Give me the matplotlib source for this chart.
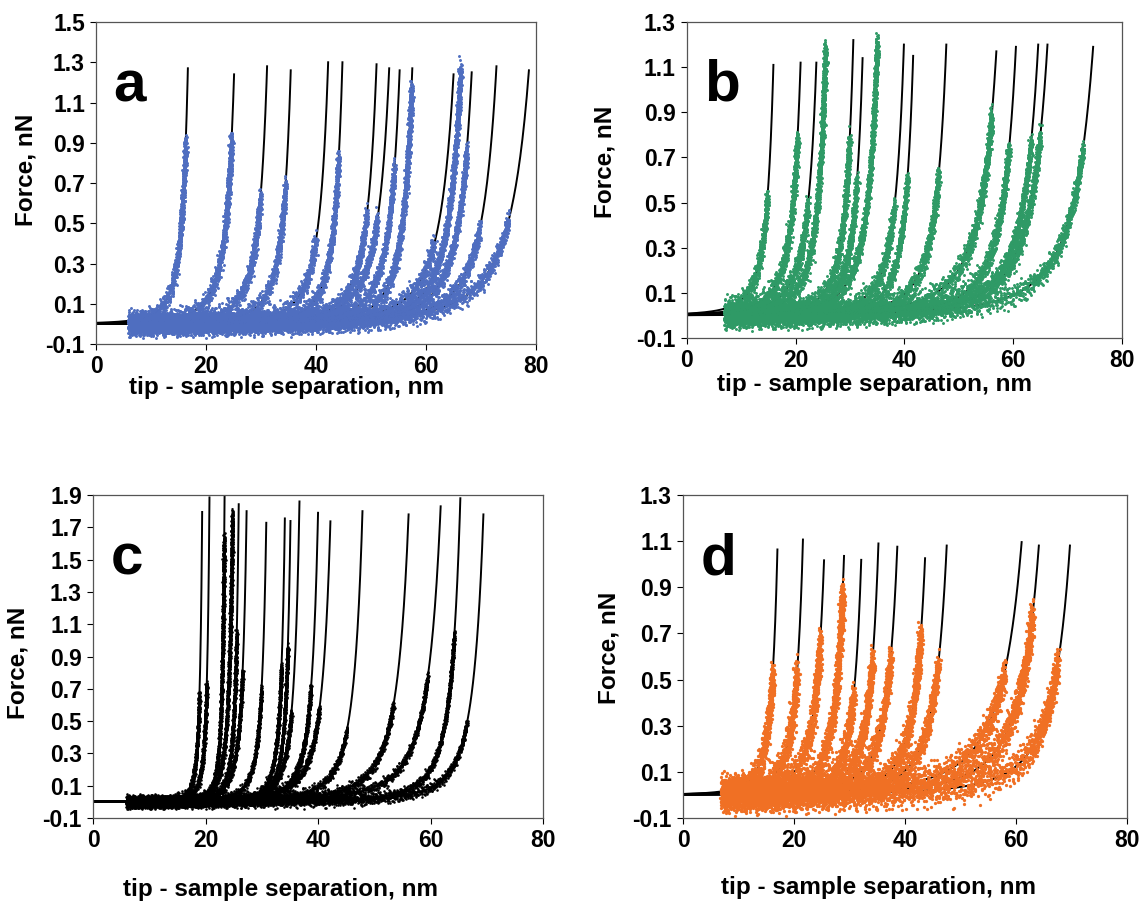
import numpy as np
import matplotlib
matplotlib.use("Agg")
import matplotlib.pyplot as plt

plt.rcParams['font.family'] = ['Liberation Sans', 'DejaVu Sans']
plt.rcParams['font.weight'] = 'bold'

# --- fit curves ---
# x_end: separation where the fit line ends (top), f_end: force there,
# x_03: separation where the fit crosses 0.3 nN, f_data: highest measured force
a_x_end = [16.7, 25.1, 31.1, 35.4, 42.2, 44.8, 51.0, 53.3, 55.2, 57.5, 65.0, 66.3, 68.3, 72.8, 78.7]
a_f_end = [1.27, 1.24, 1.28, 1.26, 1.30, 1.30, 1.29, 1.27, 1.26, 1.27, 1.24, 1.27, 1.25, 1.28, 1.26]
a_x_03 = [14.7, 22.5, 28.3, 32.8, 39.2, 42.2, 47.7, 49.5, 51.9, 54.4, 60.4, 62.2, 64.1, 68.0, 72.2]
a_f_data = [0.90, 0.92, 0.63, 0.69, 0.42, 0.83, 0.55, 0.52, 0.78, 1.18, 0.40, 1.27, 0.87, 0.48, 0.52]

b_x_end = [15.9, 20.9, 23.8, 25.5, 30.6, 32.3, 35.0, 39.9, 41.6, 47.7, 56.9, 60.5, 64.6, 66.3, 74.7]
b_f_end = [1.11, 1.12, 1.12, 1.195, 1.22, 1.14, 1.21, 1.20, 1.15, 1.20, 1.17, 1.19, 1.20, 1.20, 1.19]
b_x_03 = [13.8, 18.4, 21.1, 22.9, 28.1, 29.9, 31.8, 37.0, 39.1, 44.3, 51.9, 56.2, 59.8, 61.0, 68.4]
b_f_data = [0.52, 0.79, 0.50, 1.19, 0.78, 0.60, 1.21, 0.49, 0.60, 0.63, 0.89, 0.74, 0.77, 0.80, 0.74]

c_x_end = [19.4, 20.7, 23.4, 24.8, 25.9, 27.3, 30.8, 34.1, 35.1, 36.7, 40.0, 42.2, 47.9, 56.1, 61.8, 65.3, 69.4]
c_f_end = [1.795, 1.885, 1.95, 1.813, 1.843, 1.80, 1.728, 1.755, 1.739, 1.86, 1.79, 1.737, 1.80, 1.78, 1.83, 1.88, 1.78]
c_x_03 = [18.4, 19.6, 22.3, 23.2, 24.5, 25.4, 28.9, 32.4, 33.4, 34.3, 37.2, 38.7, 44.1, 51.1, 56.1, 61.2, 65.0]
c_f_data = [0.66, 0.73, 1.64, 1.78, 1.05, 0.80, 0.70, 0.84, 0.95, 0.55, 0.71, 0.58, 0.45, 0.60, 0.78, 1.04, 0.49]

d_x_end = [17.0, 21.6, 25.4, 29.0, 32.1, 35.2, 38.6, 43.6, 47.5, 61.0, 64.1, 69.7]
d_f_end = [1.064, 1.107, 1.017, 1.036, 1.019, 1.09, 1.076, 1.026, 1.081, 1.096, 1.081, 1.081]
d_x_03 = [15.3, 19.5, 23.1, 26.7, 30.0, 32.7, 35.7, 40.8, 44.1, 54.9, 58.8, 64.8]
d_f_data = [0.53, 0.54, 0.67, 0.89, 0.44, 0.59, 0.60, 0.70, 0.56, 0.54, 0.79, 0.58]

# scatter offsets (in units of the noise level), reused along each curve
NOISE_A = [0.3, -1.2, 0.8, -0.1, 1.6, -0.7, 0.2, -1.9, 1.1, -0.4, 0.6, -1.0, 2.1, -0.2, 0.0,
           -1.4, 0.9, 0.4, -0.6, 1.3, -2.2, 0.1, 0.7, -0.9, 1.8, -0.3, -1.6, 0.5, 1.0]
NOISE_B = [-0.5, 1.1, 0.2, -1.7, 0.6, -0.2, 1.9, -0.9, 0.0, 0.8, -1.3, 0.4, -0.6, 1.5, -2.0,
           0.3, 1.2, -0.1, -1.1, 0.7, 2.3, -0.8, 0.1, -0.4, 1.0, -1.5, 0.5, -0.3, 1.4, -2.4, 0.9]

N_EXP = 3


def gap(x_end, f_end, x_03):
    r = (0.3 / f_end) ** (1.0 / N_EXP)
    return r * (x_end - x_03) / (1 - r)


def fit_force(x, x_end, f_end, x_03):
    g = gap(x_end, f_end, x_03)
    return f_end * (g / (x_end + g - x)) ** N_EXP


def draw_panel(ax, x_end, f_end, x_03, f_data, color, letter, ylim, yticks,
               x_start, sy, sx, msize, xlab_pos, ylab_pos):
    nA = np.array(NOISE_A)
    nB = np.array(NOISE_B)
    yr = ylim[1] - ylim[0]
    for k in range(len(x_end)):
        xs = np.linspace(0, x_end[k], 600)
        ax.plot(xs, fit_force(xs, x_end[k], f_end[k], x_03[k]), color='black', lw=1.4, zorder=2)

        # measured points along the fit
        g = gap(x_end[k], f_end[k], x_03[k])
        x_top = x_end[k] + g - g * (f_end[k] / f_data[k]) ** (1.0 / N_EXP)
        xd = np.linspace(x_start, x_top, 4000)
        fd = fit_force(xd, x_end[k], f_end[k], x_03[k])
        s = np.concatenate([[0], np.cumsum(np.hypot(np.diff(xd) / 80, np.diff(fd) / yr))])
        npts = int(s[-1] / 0.0007)
        idx = np.arange(npts)
        ss = np.linspace(0, s[-1], npts)
        px = np.interp(ss, s, xd)
        pf = np.interp(ss, s, fd)
        ny = 0.7 * (nA[(idx * 7 + k * 3) % 29] + nB[(idx * 13 + k * 5) % 31])
        nx = 0.7 * (nA[(idx * 11 + k) % 29] - nB[(idx * 3 + k * 7) % 31])
        ax.scatter(px + sx * nx, pf + sy * ny, s=msize, color=color, marker='o',
                   linewidths=0, zorder=3)

    ax.set_xlim(0, 80)
    ax.set_ylim(*ylim)
    ax.set_xticks([0, 20, 40, 60, 80])
    ax.set_yticks(yticks)
    ax.set_yticklabels([f'{v:.1f}' for v in yticks])
    ax.tick_params(direction='out', length=4, width=0.8, labelsize=16.5, pad=4, colors='black')
    for sp in ax.spines.values():
        sp.set_color('#555555')
        sp.set_linewidth(0.9)
    ax.set_xlabel('tip - sample separation, nm', fontsize=17.5, fontweight='bold')
    ax.set_ylabel('Force, nN', fontsize=17.5, fontweight='bold')
    ax.xaxis.set_label_coords(*xlab_pos)
    ax.yaxis.set_label_coords(*ylab_pos)
    ax.text(0.04, 0.80, letter, transform=ax.transAxes, fontsize=42, fontweight='bold',
            ha='left', va='center')


fig = plt.figure(figsize=(11.43, 9.02), dpi=100)

ax_a = fig.add_axes([0.0840, 0.6186, 0.3850, 0.3570])
draw_panel(ax_a, a_x_end, a_f_end, a_x_03, a_f_data, '#4F6EC0', 'a', (-0.1, 1.5),
           np.arange(-0.1, 1.51, 0.2), 6.0, 0.022, 0.16, 4.5,
           (0.434, -0.10), (-0.134, 0.54))

ax_b = fig.add_axes([0.6010, 0.6253, 0.3806, 0.3503])
draw_panel(ax_b, b_x_end, b_f_end, b_x_03, b_f_data, '#2F9A66', 'b', (-0.1, 1.3),
           np.arange(-0.1, 1.31, 0.2), 7.0, 0.022, 0.16, 4.5,
           (0.432, -0.11), (-0.161, 0.557))

ax_c = fig.add_axes([0.0814, 0.0931, 0.3937, 0.3581])
draw_panel(ax_c, c_x_end, c_f_end, c_x_03, c_f_data, 'black', 'c', (-0.1, 1.9),
           np.arange(-0.1, 1.91, 0.2), 6.0, 0.015, 0.09, 3.5,
           (0.416, -0.185), (-0.142, 0.48))

ax_d = fig.add_axes([0.5976, 0.0931, 0.3885, 0.3581])
draw_panel(ax_d, d_x_end, d_f_end, d_x_03, d_f_data, '#F07024', 'd', (-0.1, 1.3),
           np.arange(-0.1, 1.31, 0.2), 7.0, 0.03, 0.2, 5.5,
           (0.441, -0.18), (-0.140, 0.526))

fig.savefig('out.png', dpi=100)
